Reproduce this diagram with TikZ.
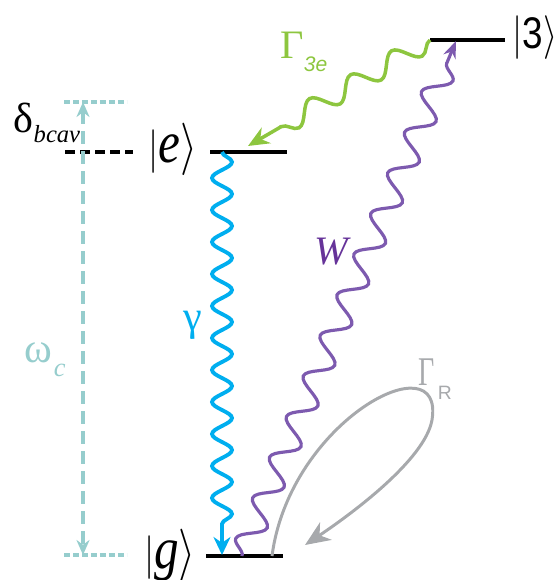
\documentclass[tikz,border=0pt]{standalone}
\usepackage{fontspec}
\setmainfont{Liberation Serif}
\newfontfamily\ketsans{Liberation Sans}
\usetikzlibrary{arrows.meta,decorations.pathmorphing}

\definecolor{cavteal}{RGB}{150,205,205}
\definecolor{decblue}{RGB}{0,174,239}
\definecolor{drvpurple}{RGB}{125,90,175}
\definecolor{wpurple}{RGB}{102,51,153}
\definecolor{relgreen}{RGB}{141,198,63}
\definecolor{relgray}{RGB}{167,169,172}

% ket with the tall look of the original
\newcommand{\tallket}[1]{\scalebox{1}[1.2]{$|$#1$\rangle$}}
% lowered subscript
\newcommand{\lsub}[3]{\raisebox{-#1}{\fontsize{#2}{#2}\selectfont #3}}

\begin{document}
\begin{tikzpicture}[
  lvl/.style={line width=2pt},
  ket/.style={inner sep=0pt, font=\fontsize{22}{26}\selectfont},
  sym/.style={inner sep=0pt, font=\fontsize{24}{28}\selectfont},
  wave/.style={decorate, decoration={snake, #1}}]
\useasboundingbox (0,0) rectangle (11.12,11.6);

% energy levels
\coordinate (thrL) at (8.6,10.8);
\coordinate (thrR) at (10.1,10.8);
\coordinate (exL) at (4.2,8.56);
\coordinate (exR) at (5.74,8.56);
\coordinate (grL) at (4.12,0.48);
\coordinate (grR) at (5.66,0.48);
\draw[lvl] (thrL) -- (thrR);
\draw[lvl] (exL) -- (exR);
\draw[lvl] (grL) -- (grR);

\node[ket] (ket3) at (10.7,10.84) {\tallket{\ketsans\fontsize{21}{21}\selectfont 3}};
\node[ket] (kete) at (3.46,8.62) {\tallket{\fontsize{28}{28}\selectfont\itshape e}};
\node[ket] (ketg) at (3.4,0.5) {\tallket{\fontsize{28}{28}\selectfont\itshape g}};

% cavity detuning
\coordinate (dtL) at (1.3,8.56);
\coordinate (dtR) at (2.66,8.56);
\draw[line width=2pt, dash pattern=on 0.2cm off 0.1cm] (dtL) -- (dtR);
\node[sym] (delta) at (0.94,9.14) {δ\lsub{6pt}{14}{\itshape bcav}};

% cavity frequency
\coordinate (capTL) at (1.28,9.56);
\coordinate (capTR) at (2.54,9.56);
\coordinate (capBL) at (1.28,0.5);
\coordinate (capBR) at (2.54,0.5);
\coordinate (cavT) at (1.66,9.56);
\coordinate (cavB) at (1.66,0.5);
\draw[cavteal, line width=2.4pt, dash pattern=on 0.12cm off 0.06cm] (capTL) -- (capTR);
\draw[cavteal, line width=2.4pt, dash pattern=on 0.12cm off 0.06cm] (capBL) -- (capBR);
\draw[cavteal, line width=2.4pt, dash pattern=on 0.26cm off 0.14cm,
  {Stealth[length=0.3cm,width=0.26cm]}-{Stealth[length=0.3cm,width=0.26cm]}] (cavT) -- (cavB);
\node[sym, cavteal] (omega) at (0.9,4.4) {ω\lsub{8pt}{15}{\kern1pt\itshape c}};

% decay e -> g
\coordinate (exB) at (4.44,8.56);
\coordinate (grB) at (4.44,0.5);
\draw[decblue, line width=2.2pt, -{Stealth[length=0.36cm,width=0.34cm]},
  wave={amplitude=0.2cm, segment length=0.64cm, post length=0.4cm}] (exB) -- (grB);
\node[sym, decblue] (gamma) at (3.86,5.1) {γ};

% drive g -> 3
\coordinate (grP) at (4.84,0.48);
\coordinate (thrP) at (9.12,10.78);
\draw[drvpurple, line width=1.8pt, -{Stealth[length=0.34cm,width=0.26cm]},
  wave={amplitude=0.25cm, segment length=0.88cm, post length=0.45cm}] (grP) -- (thrP);
\node[sym, wpurple, font=\fontsize{23}{27}\selectfont] (drive) at (6.62,6.56) {\itshape W};

% decay 3 -> e
\coordinate (exG) at (4.96,8.68);
\draw[relgreen, line width=2pt, -{Stealth[length=0.42cm,width=0.36cm]},
  wave={amplitude=0.2cm, segment length=0.95cm, post length=0.45cm}] (thrL) -- (exG);
\node[sym, relgreen, font=\fontsize{23}{27}\selectfont] (gam3e) at (6.08,10.56)
  {Γ\lsub{7pt}{12}{\ketsans\itshape 3e}};

% loss back to g
\coordinate (grG) at (5.44,0.48);
\coordinate (grA) at (6.1,0.7);
\draw[relgray, line width=1.7pt, -{Stealth[length=0.5cm,width=0.42cm,inset=0.15cm]}]
  (grG) .. controls (5.8,3.2) and (8.9,4.8) .. (8.64,3.2)
  .. controls (8.5,2.4) and (7.0,1.3) .. (grA);
\node[sym, relgray] (gamR) at (8.7,4.02)
  {\scalebox{1}[1.45]{\fontsize{16}{16}\selectfont Γ}\lsub{8pt}{11}{\kern2pt\ketsans R}};
\end{tikzpicture}
\end{document}
